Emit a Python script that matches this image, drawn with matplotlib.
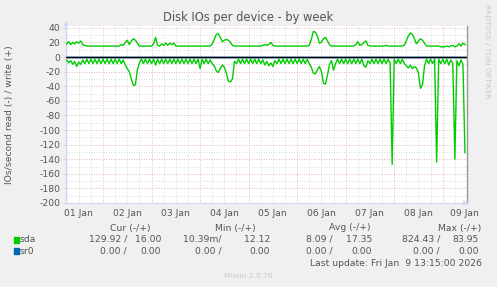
import numpy as np
import matplotlib.pyplot as plt

# time: hourly samples from Jan 1 06:00 to Jan 9 11:00, x in days since Jan 1 00:00
start_day = 0.25
n_hours = 198

# sda write (+), one row per day
sda_write = [
    18, 21, 17, 20, 18, 21, 19, 22, 17, 16, 15, 15, 15, 15, 15, 15, 15, 15,
    15, 15, 15, 15, 15, 15, 15, 15, 15, 17, 16, 20, 23, 17, 22, 25, 23, 19, 15, 15, 15, 15, 15, 15,
    15, 18, 27, 16, 15, 18, 16, 19, 16, 19, 17, 19, 15, 15, 15, 15, 15, 15, 15, 15, 15, 15, 15, 15,
    15, 15, 15, 15, 15, 15, 18, 24, 31, 32, 27, 21, 23, 24, 23, 20, 16, 15, 15, 15, 15, 15, 15, 15,
    15, 15, 15, 15, 15, 15, 15, 16, 17, 16, 17, 20, 16, 15, 15, 15, 15, 15, 15, 15, 15, 15, 15, 15,
    15, 15, 15, 15, 15, 15, 16, 24, 35, 34, 29, 19, 20, 25, 27, 22, 17, 15, 15, 15, 15, 15, 15, 15,
    15, 15, 15, 15, 15, 17, 21, 16, 17, 20, 22, 16, 15, 15, 15, 15, 15, 15, 15, 15, 16, 15, 15, 15,
    15, 15, 15, 15, 15, 16, 22, 29, 33, 31, 25, 18, 22, 25, 23, 19, 15, 15, 15, 15, 15, 15, 15, 14,
    14, 14, 15, 14, 15, 16, 14, 15, 18, 15, 19, 17,
]

# sda read (-)
sda_read = [
    -4, -8, -5, -10, -6, -13, -7, -10, -4, -9, -3, -9, -3, -9, -3, -9, -3, -9,
    -3, -9, -3, -9, -3, -9, -3, -9, -3, -9, -4, -11, -16, -20, -30, -39, -38, -17, -8, -3, -9, -3, -9, -3,
    -9, -3, -11, -3, -9, -3, -9, -3, -9, -3, -9, -3, -9, -3, -9, -3, -9, -3, -9, -3, -9, -3, -9, -3,
    -16, -3, -9, -3, -9, -4, -9, -12, -19, -21, -16, -11, -14, -22, -33, -34, -30, -6, -9, -3, -9, -3, -9, -3,
    -9, -3, -9, -3, -9, -3, -9, -4, -11, -6, -12, -8, -13, -5, -9, -3, -9, -3, -9, -3, -9, -3, -9, -3,
    -9, -3, -9, -3, -9, -3, -9, -14, -22, -23, -18, -13, -20, -36, -37, -25, -10, -5, -18, -9, -3, -9, -3, -9,
    -3, -9, -3, -9, -3, -9, -3, -9, -3, -12, -14, -5, -9, -3, -9, -3, -9, -3, -9, -3, -9, -3, -9, -147,
    -3, -9, -3, -9, -3, -9, -12, -15, -11, -16, -13, -15, -22, -43, -38, -12, -3, -9, -3, -9, -3, -144, -3, -9,
    -3, -9, -3, -11, -4, -9, -140, -5, -12, -4, -10, -131,
]

# sr0 is idle
sr0_read = [0] * n_hours
sr0_write = [0] * n_hours

day_labels = ['01 Jan', '02 Jan', '03 Jan', '04 Jan', '05 Jan', '06 Jan', '07 Jan', '08 Jan', '09 Jan']
y_ticks = [40, 20, 0, -20, -40, -60, -80, -100, -120, -140, -160, -180, -200]

legend_names = ['sda', 'sr0']
legend_colors = ['#00cc00', '#0066b3']
cur_vals = [('129.92 /', '16.00'), ('0.00 /', '0.00')]
min_vals = [('10.39m/', '12.12'), ('0.00 /', '0.00')]
avg_vals = [('8.09 /', '17.35'), ('0.00 /', '0.00')]
max_vals = [('824.43 /', '83.95'), ('0.00 /', '0.00')]

txt = '#555555'
font = 'DejaVu Sans'
fs = 6.7
W, H = 497, 287

fig = plt.figure(figsize=(W / 100, H / 100), dpi=100, facecolor='#f0f0f0')
ax = fig.add_axes([66 / W, 1 - 203 / H, 400.5 / W, 177 / H])
ax.set_facecolor('white')

t = start_day + np.arange(n_hours) / 24.0
x0, x1 = 0.237, 8.49
ax.set_xlim(x0, x1)
ax.set_ylim(-200, 42.5)

# grid
for d in np.arange(0.25, 8.5, 0.25):
    major = abs(d - round(d)) < 1e-6
    ax.axvline(d, color='#e0a0a0' if major else '#d0d0d0', lw=0.6,
               ls=(0, (1, 2)), zorder=1)
for v in range(-200, 41, 10):
    major = v % 20 == 0
    ax.axhline(v, color='#e0a0a0' if major else '#d0d0d0', lw=0.6,
               ls=(0, (1, 2)), zorder=1)

ax.plot(t, sr0_write, color=legend_colors[1], lw=1, zorder=2)
ax.plot(t, sr0_read, color=legend_colors[1], lw=1, zorder=2)
ax.plot(t, sda_write, color=legend_colors[0], lw=1, zorder=3)
ax.plot(t, sda_read, color=legend_colors[0], lw=1, zorder=3)
ax.axhline(0, color='black', lw=1, zorder=4)

# axes
ax.spines['top'].set_visible(False)
ax.spines['right'].set_color('#999999')
ax.spines['right'].set_linewidth(1)
ax.spines['left'].set_color('#cfd6f8')
ax.spines['bottom'].set_color('#cfd6f8')
ax.annotate('', xy=(0, 1.045), xytext=(0, 0.98), xycoords='axes fraction',
            arrowprops=dict(arrowstyle='-|>', color='#cfd6f8', lw=1, mutation_scale=6))
ax.annotate('', xy=(1.012, 0), xytext=(0.99, 0), xycoords='axes fraction',
            arrowprops=dict(arrowstyle='-|>', color='#cfd6f8', lw=1, mutation_scale=6))

ax.set_yticks(y_ticks)
ax.set_yticklabels([str(v) for v in y_ticks], fontsize=fs, color=txt, family=font)
ax.tick_params(axis='y', length=2, width=0.6, color='#cccccc', pad=2)

label_pos = [min(i + 0.5, 8.45) for i in range(len(day_labels))]
ax.set_xticks(label_pos)
ax.set_xticklabels(day_labels, fontsize=fs, color=txt, family=font)
ax.tick_params(axis='x', length=0, pad=4)

fig.text(0.5, 1 - 18 / H, 'Disk IOs per device - by week', ha='center', va='center',
         fontsize=8.3, color=txt, family=font)
fig.text(10 / W, 1 - 115 / H, 'IOs/second read (-) / write (+)', ha='center', va='center',
         rotation=90, fontsize=fs, color=txt, family=font)
fig.text(487 / W, 1 - 51 / H, 'RRDTOOL / TOBI OETIKER', ha='center', va='center',
         rotation=270, fontsize=5.3, color='#c8c8c8', family=font)

# legend
heads = [('Cur (-/+)', 130), ('Min (-/+)', 235), ('Avg (-/+)', 350), ('Max (-/+)', 460)]
for h, xp in heads:
    fig.text(xp / W, 1 - 228 / H, h, ha='center', va='center', fontsize=fs, color=txt, family=font)

ends_a = [127, 222, 333, 440]
ends_b = [161, 270, 372, 479]
for i, name in enumerate(legend_names):
    yp = 1 - (239.5 + 11.5 * i) / H
    fig.patches.append(plt.Rectangle((14 / W, yp - 3 / H), 5 / W, 6 / H, transform=fig.transFigure,
                                     color=legend_colors[i]))
    fig.text(20 / W, yp, name, ha='left', va='center', fontsize=fs, color=txt, family=font)
    for j, vals in enumerate([cur_vals, min_vals, avg_vals, max_vals]):
        fig.text(ends_a[j] / W, yp, vals[i][0], ha='right', va='center', fontsize=fs,
                 color=txt, family=font)
        fig.text(ends_b[j] / W, yp, vals[i][1], ha='right', va='center', fontsize=fs,
                 color=txt, family=font)

fig.text(482 / W, 1 - 263 / H, 'Last update: Fri Jan  9 13:15:00 2026', ha='right', va='center',
         fontsize=fs, color=txt, family=font)
fig.text(0.5, 1 - 276 / H, 'Munin 2.0.76', ha='center', va='center', fontsize=5.3,
         color='#c8c8c8', family=font)

fig.savefig('out.png', dpi=100, facecolor=fig.get_facecolor())
